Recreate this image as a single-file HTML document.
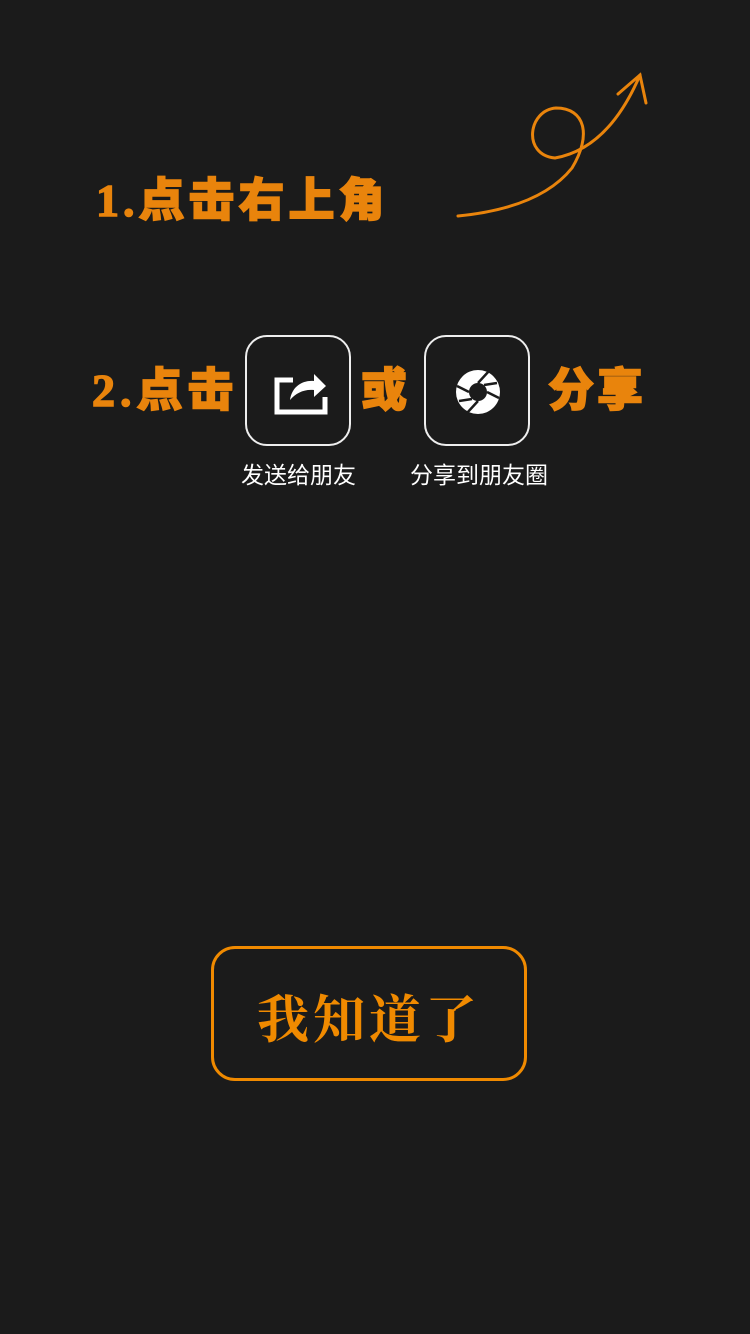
<!DOCTYPE html>
<html><head><meta charset="utf-8"><style>
body{margin:0;width:750px;height:1334px;background:#1b1b1b;overflow:hidden;position:relative;font-family:"Liberation Sans","Noto Sans CJK SC",sans-serif}
.o{position:absolute;color:#e9840c;font-weight:900;font-size:46px;font-family:"Liberation Serif","Noto Sans CJK SC",sans-serif;line-height:50px;white-space:nowrap;-webkit-text-stroke:1.5px #e9840c}
.box{position:absolute;width:106px;height:111px;border:2.5px solid #eee;border-radius:22px;box-sizing:border-box}
.cap{position:absolute;color:#fff;font-size:23px;line-height:26px;white-space:nowrap}
</style></head><body>
<div class="o" style="left:96px;top:176px;letter-spacing:4px">1.点击右上角</div>
<svg style="position:absolute;left:0;top:0" width="750" height="300">
<path d="M458,216 Q540,208 572,168 C592,135 585,108 556,108 C528,110 522,155 555,158 C600,150 625,110 640,75" fill="none" stroke="#e9840c" stroke-width="3" stroke-linecap="round"/>
<path d="M618,94 L640,75 L646,103" fill="none" stroke="#e9840c" stroke-width="3" stroke-linecap="round"/>
</svg>
<div class="o" style="left:92px;top:366px;letter-spacing:5px">2.点击</div>
<div class="box" style="left:245px;top:335px">
<svg width="101" height="106" viewBox="0 0 101 106"><path d="M46,43 H30 V75 H78 V60" fill="none" stroke="#fff" stroke-width="5"/><path d="M43,63 C45,49 56,43 67,44 V37 L79,49 L67,60 V53 C57,52 49,56 43,63 Z" fill="#fff"/></svg>
</div>
<div class="o" style="left:361px;top:366px">或</div>
<div class="box" style="left:424px;top:335px">
<svg width="101" height="106" viewBox="0 0 101 106"><circle cx="52" cy="55" r="22" fill="#fff"/><circle cx="52" cy="55" r="9" fill="#1b1b1b"/><g stroke="#1b1b1b" stroke-width="2.5"><line x1="52" y1="46" x2="63" y2="34"/><line x1="61" y1="55" x2="73" y2="61"/><line x1="52" y1="64" x2="41" y2="76"/><line x1="43" y1="55" x2="31" y2="49"/><line x1="58" y1="48" x2="71" y2="46"/><line x1="46" y1="62" x2="33" y2="64"/></g></svg>
</div>
<div class="o" style="left:548px;top:366px;letter-spacing:3px">分享</div>
<div class="cap" style="left:241px;top:462px">发送给朋友</div>
<div class="cap" style="left:410px;top:462px">分享到朋友圈</div>
<div style="position:absolute;left:211px;top:946px;width:316px;height:135px;border:3px solid #f08a00;border-radius:24px;box-sizing:border-box;color:#f08a00;font-size:52px;font-weight:700;font-family:'Noto Serif CJK SC',serif;text-align:center;line-height:134px;letter-spacing:4px">我知道了</div>
</body></html>
